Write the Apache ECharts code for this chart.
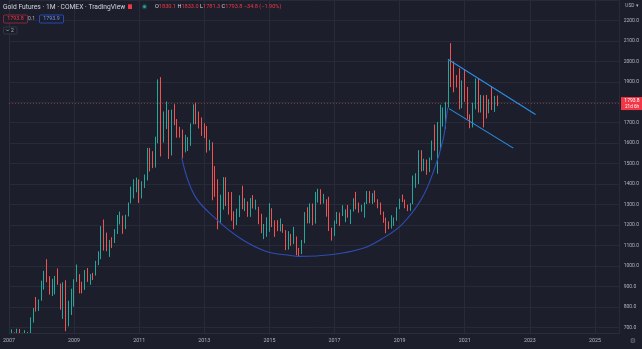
<!DOCTYPE html>
<html><head><meta charset="utf-8">
<script src="https://cdn.jsdelivr.net/npm/echarts@6/dist/echarts.min.js"></script>
<style>html,body{margin:0;padding:0;background:#1c1f2b;overflow:hidden}#c{width:642px;height:349px}</style>
</head><body><div id="c"></div>
<script>
// ---- Data: Gold Futures monthly (COMEX), Jan 2007 .. Jan 2022 ----
const startYear = 2007;
const opens = [
 632,650,672,663,680,659,650,665,673,743,789,783,
 834,923,971,916,864,885,930,913,833,880,718,816,
 884,928,942,923,883,979,927,955,953,1008,1040,1182,
 1097,1081,1118,1115,1180,1215,1245,1180,1247,1308,1359,1386,
 1421,1333,1410,1439,1563,1536,1500,1628,1826,1620,1714,1746,
 1566,1738,1711,1669,1664,1562,1604,1614,1692,1775,1719,1714,
 1675,1663,1578,1597,1476,1393,1234,1312,1396,1327,1323,1250,
 1202,1240,1321,1284,1296,1246,1322,1282,1287,1210,1171,1175,
 1184,1279,1213,1183,1182,1190,1172,1095,1133,1115,1142,1065,
 1061,1118,1238,1234,1291,1216,1322,1351,1311,1317,1277,1173,
 1152,1212,1253,1251,1269,1271,1242,1270,1322,1284,1271,1276,
 1309,1345,1318,1327,1319,1305,1254,1233,1206,1196,1215,1226,
 1283,1325,1316,1295,1285,1306,1413,1437,1529,1472,1513,1473,
 1523,1588,1566,1597,1694,1751,1800,1986,1978,1895,1879,1781,
 1895,1850,1729,1715,1769,1905,1771,1817,1815,1758,1784,1776,
 1830.1
];
const highs = [
 652,690,675,693,692,673,686,677,749,795,848,836,
 928,976,1033,950,937,951,988,914,920,930,830,889,
 935,1007,960,923,980,990,960,966,1025,1072,1195,1227,
 1163,1127,1140,1180,1249,1266,1246,1250,1310,1388,1424,1432,
 1423,1414,1447,1577,1577,1561,1632,1912,1923,1755,1804,1763,
 1764,1791,1718,1680,1667,1641,1630,1697,1790,1798,1755,1726,
 1697,1684,1617,1605,1488,1424,1348,1434,1434,1362,1361,1267,
 1280,1345,1392,1331,1315,1332,1346,1324,1289,1255,1205,1238,
 1307,1282,1223,1224,1232,1205,1175,1170,1157,1191,1144,1088,
 1127,1263,1287,1306,1305,1362,1377,1375,1352,1326,1338,1187,
 1222,1264,1261,1297,1277,1298,1276,1331,1362,1310,1299,1311,
 1366,1366,1356,1369,1326,1310,1266,1236,1218,1248,1237,1287,
 1329,1349,1325,1300,1307,1442,1453,1566,1566,1524,1520,1530,
 1613,1691,1704,1788,1775,1802,2005,2089,2000,1933,1966,1907,
 1962,1875,1741,1798,1916,1919,1836,1834,1836,1815,1877,1831,
 1833.0
];
const lows = [
 603,645,636,660,651,640,645,642,670,723,777,780,
 830,884,920,860,853,861,908,786,741,681,705,760,
 801,922,866,866,883,922,908,931,953,1004,1033,1075,
 1072,1044,1088,1112,1156,1203,1157,1180,1242,1306,1330,1360,
 1308,1330,1381,1418,1462,1478,1481,1600,1535,1603,1669,1523,
 1540,1688,1627,1627,1527,1555,1562,1587,1692,1693,1672,1636,
 1625,1554,1564,1321,1338,1179,1208,1275,1293,1251,1221,1180,
 1200,1239,1277,1268,1240,1240,1281,1275,1204,1160,1131,1142,
 1167,1190,1142,1170,1169,1162,1077,1080,1098,1107,1052,1046,
 1058,1111,1208,1208,1199,1207,1310,1301,1305,1241,1171,1124,
 1146,1206,1195,1244,1214,1236,1205,1266,1277,1260,1265,1236,
 1303,1307,1303,1311,1282,1250,1211,1160,1180,1183,1196,1221,
 1278,1312,1282,1268,1269,1302,1382,1400,1462,1465,1446,1459,
 1517,1563,1451,1568,1681,1670,1774,1874,1849,1872,1765,1771,
 1802,1717,1673,1677,1765,1750,1750,1677,1721,1746,1762,1753,
 1781.3
];
const closes = [
 650,672,663,680,659,650,665,673,743,789,783,834,
 923,971,916,864,885,930,913,833,880,718,816,884,
 928,942,923,883,979,927,955,953,1008,1040,1182,1097,
 1081,1118,1115,1180,1215,1245,1180,1247,1308,1359,1386,1421,
 1333,1410,1439,1563,1536,1500,1628,1826,1620,1714,1746,1566,
 1738,1711,1669,1664,1562,1604,1614,1692,1775,1719,1714,1675,
 1663,1578,1597,1476,1393,1234,1312,1396,1327,1323,1250,1202,
 1240,1321,1284,1296,1246,1322,1282,1287,1210,1171,1175,1184,
 1279,1213,1183,1182,1190,1172,1095,1133,1115,1142,1065,1061,
 1118,1238,1234,1291,1216,1322,1351,1311,1317,1277,1173,1152,
 1212,1253,1251,1269,1271,1242,1270,1322,1284,1271,1276,1309,
 1345,1318,1327,1319,1305,1254,1233,1206,1196,1215,1226,1283,
 1325,1316,1295,1285,1306,1413,1437,1529,1472,1513,1473,1523,
 1588,1566,1597,1694,1751,1800,1986,1978,1895,1879,1781,1895,
 1850,1729,1715,1769,1905,1771,1817,1815,1758,1784,1776,1828.6,
 1793.8
];
const yearLabels = ['2007','2009','2011','2013','2015','2017','2019','2021','2023','2025'];
const priceTicks = [700,800,900,1000,1100,1200,1300,1400,1500,1600,1700,1800,1900,2000,2100,2200];
// Drawn annotations (x in months since Jan 2007, price)
const arcMonths = [63.7,68.4,76.7,85.5,94.9,104,106.5,119.3,130.2,137.5,144.7,152,156.7,160,161.1,161.7];
const arcPrices = [1528,1345,1225,1133,1071,1051,1047,1056,1085,1133,1201,1326,1470,1615,1711,1774];
const upperMonths = [161.8,194.1], upperPrices = [2010,1740];
const lowerMonths = [162.2,185.9], lowerPrices = [1769,1576];
const bidAsk = ['1793.8','0.1','1793.9'];
const countdown = '21d 6h';

const BG = '#1c1f2b', GRID = '#272b38', TXT = '#b2b5be', UP = '#26a69a', DN = '#ef5350';
const FONT = 'Roboto, "Noto Sans", sans-serif';

const candles = opens.map((o, i) => [i, o, closes[i], lows[i], highs[i]]);
const zip = (a, b) => a.map((v, i) => [v, b[i]]);
const last = opens.length - 1;
const lastClose = closes[last], prevClose = closes[last - 1];
const chg = lastClose - prevClose;
const pct = chg / prevClose * 100;
const sgn = v => (v < 0 ? '\u2212' : '+');

const chart = echarts.init(document.getElementById('c'), null, {renderer: 'canvas'});
const xCommon = {type: 'value', min: 0, max: 619 / 2.75, interval: 24};
chart.setOption({
  backgroundColor: BG,
  animation: false,
  grid: {left: 2, right: 21, top: -5.31, bottom: 1.22},
  xAxis: [
    Object.assign({}, xCommon, {
      axisLine: {show: false}, axisTick: {show: false}, axisLabel: {show: false},
      splitLine: {show: true, lineStyle: {color: GRID, width: 1}}
    }),
    Object.assign({}, xCommon, {
      position: 'bottom', offset: -14.78, z: 150,
      axisLine: {show: true, lineStyle: {color: '#2a2e39'}}, axisTick: {show: false},
      splitLine: {show: false},
      axisLabel: {show: true, color: TXT, fontSize: 5.3, fontFamily: FONT, margin: 5,
        showMaxLabel: false, alignMinLabel: 'center', hideOverlap: false,
        formatter: v => { const k = Math.round(v / 24); return (Math.abs(v - k * 24) < 1e-6 && yearLabels[k]) ? yearLabels[k] : ''; }}
    })
  ],
  yAxis: {
    type: 'value', position: 'right', min: 600, max: 2300, interval: 100, scale: true,
    axisLine: {show: true, lineStyle: {color: '#2a2e39'}}, axisTick: {show: false},
    splitLine: {show: true, lineStyle: {color: GRID, width: 1}},
    axisLabel: {color: TXT, fontSize: 5, fontFamily: FONT, margin: 4,
      formatter: v => priceTicks.indexOf(Math.round(v)) >= 0 && Math.abs(v - Math.round(v)) < 1e-6 ? v.toFixed(1) : ''}
  },
  series: [
    {
      type: 'candlestick', xAxisIndex: 0, data: candles, barWidth: 1,
      itemStyle: {color: UP, color0: DN, borderColor: UP, borderColor0: DN, borderWidth: 1},
      markLine: {silent: true, symbol: 'none', animation: false,
        label: {show: false},
        lineStyle: {color: 'rgba(239,83,80,0.45)', type: [1, 2], width: 1},
        data: [{yAxis: lastClose}]}
    },
    {type: 'line', xAxisIndex: 0, data: zip(arcMonths, arcPrices), smooth: 0.4, showSymbol: false,
      lineStyle: {color: '#2f4cb5', width: 1.1}, z: 3},
    {type: 'line', xAxisIndex: 0, data: zip(upperMonths, upperPrices), showSymbol: false,
      lineStyle: {color: '#2a8ee8', width: 1.1}, z: 3},
    {type: 'line', xAxisIndex: 0, data: zip(lowerMonths, lowerPrices), showSymbol: false,
      lineStyle: {color: '#2a8ee8', width: 1.1}, z: 3}
  ]
});

const py = chart.convertToPixel({yAxisIndex: 0}, lastClose);
const red = '#f23645';
const ohlc = '{l|O}{v|' + opens[last].toFixed(1) + '} {l|H}{v|' + highs[last].toFixed(1) +
  '} {l|L}{v|' + lows[last].toFixed(1) + '} {l|C}{v|' + lastClose.toFixed(1) + '} {v|' +
  sgn(chg) + Math.abs(chg).toFixed(1) + ' (' + sgn(pct) + Math.abs(pct).toFixed(2) + '%)}';
chart.setOption({
  graphic: [
    {type: 'rect', z: 100, silent: true, shape: {x: 0, y: 333.5, width: 621, height: 16}, style: {fill: BG}},
    // header
    {type: 'text', z: 120, x: 3, y: 7, style: {text: 'Gold Futures \u00b7 1M \u00b7 COMEX \u00b7 TradingView', fill: '#d1d4dc', font: '6.7px ' + FONT, verticalAlign: 'middle'}},
    {type: 'rect', z: 120, shape: {x: 128, y: 4.3, width: 4, height: 4.6, r: 0.5}, style: {fill: red}},
    {type: 'circle', z: 120, shape: {cx: 144.5, cy: 6.7, r: 2.6}, style: {fill: 'rgba(38,166,154,0.25)'}},
    {type: 'circle', z: 121, shape: {cx: 144.5, cy: 6.7, r: 1.4}, style: {fill: UP}},
    {type: 'text', z: 120, x: 155, y: 7, style: {
      text: ohlc, verticalAlign: 'middle', font: '5.6px ' + FONT,
      rich: {l: {fill: '#d1d4dc', font: '5.6px ' + FONT}, v: {fill: red, font: '5.6px ' + FONT}}}},
    {type: 'rect', z: 120, shape: {x: 3.5, y: 15, width: 24, height: 8, r: 1}, style: {fill: BG, stroke: '#a3283a', lineWidth: 0.8}},
    {type: 'text', z: 121, x: 15.5, y: 19, style: {text: bidAsk[0], fill: red, font: '5.3px ' + FONT, align: 'center', verticalAlign: 'middle'}},
    {type: 'text', z: 121, x: 31.5, y: 19, style: {text: bidAsk[1], fill: TXT, font: '5px ' + FONT, align: 'center', verticalAlign: 'middle'}},
    {type: 'rect', z: 120, shape: {x: 39.5, y: 15, width: 24, height: 8, r: 1}, style: {fill: BG, stroke: '#2b54d6', lineWidth: 0.8}},
    {type: 'text', z: 121, x: 51.5, y: 19, style: {text: bidAsk[2], fill: '#6f95f2', font: '5.3px ' + FONT, align: 'center', verticalAlign: 'middle'}},
    {type: 'rect', z: 120, shape: {x: 3.5, y: 27, width: 13.5, height: 7, r: 1}, style: {fill: BG, stroke: '#3a3e4a', lineWidth: 0.7}},
    {type: 'polyline', z: 121, shape: {points: [[6.3, 29.6], [7.6, 31], [8.9, 29.6]]}, style: {stroke: TXT, lineWidth: 0.7, fill: null}},
    {type: 'text', z: 121, x: 12.3, y: 30.6, style: {text: '2', fill: TXT, font: '5px ' + FONT, align: 'center', verticalAlign: 'middle'}},
    // right scale extras
    {type: 'text', z: 120, x: 632, y: 6.3, style: {text: 'USD \u25be', fill: TXT, font: '4.8px ' + FONT, align: 'center', verticalAlign: 'middle'}},
    {type: 'rect', z: 120, shape: {x: 621, y: py - 6.5, width: 21, height: 13}, style: {fill: red}},
    {type: 'text', z: 121, x: 632, y: py - 3, style: {text: lastClose.toFixed(1), fill: '#ffffff', font: '5px ' + FONT, align: 'center', verticalAlign: 'middle'}},
    {type: 'text', z: 121, x: 632, y: py + 3.2, style: {text: countdown, fill: '#ffffff', font: '4.6px ' + FONT, align: 'center', verticalAlign: 'middle'}},
    {type: 'text', z: 160, x: 633, y: 341.5, style: {text: '\u2699', fill: '#787b86', font: '7px "DejaVu Sans"', align: 'center', verticalAlign: 'middle'}}
  ]
});
</script>
</body></html>
